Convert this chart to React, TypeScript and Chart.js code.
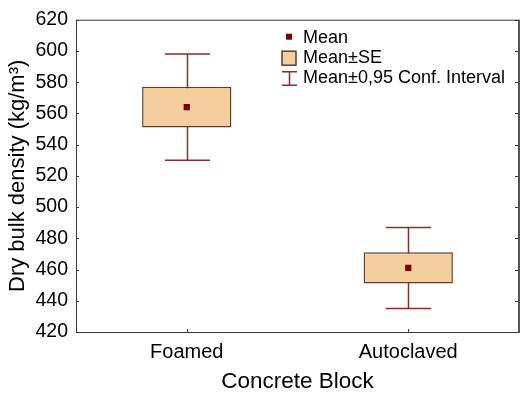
import React, { useEffect, useRef } from 'react';
import { Chart, registerables } from 'chart.js';

Chart.register(...registerables);

const categories = ['Foamed', 'Autoclaved'];
const means = [564, 461];
const seLow = [551, 451];
const seHigh = [577, 471];
const ciLow = [530, 435];
const ciHigh = [598, 487];
const yMin = 420;
const yMax = 620;
const yStep = 20;

const legendLabels = ['Mean', 'Mean±SE', 'Mean±0,95 Conf. Interval'];
const xTitle = 'Concrete Block';
const yTitle = 'Dry bulk density (kg/m³)';

const FONT = '"Liberation Sans", Arial, Helvetica, sans-serif';
const BOX_FILL = '#F4CE9C';
const BOX_BORDER = '#5e3c33';
const WHISKER = '#862e2e';
const MEAN_COLOR = '#7a0000';
const FRAME = '#3a3a3a';

const decor = {
  id: 'decor',
  beforeDatasetsDraw(chart: any) {
    const { ctx, scales } = chart;
    const x = scales.x;
    const y = scales.y;
    const catW = x.getPixelForValue(1) - x.getPixelForValue(0);
    const cap = catW * 0.102;
    ctx.save();
    ctx.strokeStyle = WHISKER;
    ctx.lineWidth = 1.5;
    categories.forEach((_c, i) => {
      const px = Math.round(x.getPixelForValue(i)) + 0.5;
      const yl = y.getPixelForValue(ciLow[i]);
      const yh = y.getPixelForValue(ciHigh[i]);
      ctx.beginPath();
      ctx.moveTo(px, yl);
      ctx.lineTo(px, yh);
      ctx.moveTo(px - cap, yl);
      ctx.lineTo(px + cap, yl);
      ctx.moveTo(px - cap, yh);
      ctx.lineTo(px + cap, yh);
      ctx.stroke();
    });
    ctx.restore();
  },
  afterDraw(chart: any) {
    const { ctx, chartArea, scales } = chart;
    const x = scales.x;
    const y = scales.y;
    const { left, right, top, bottom } = chartArea;
    ctx.save();
    // frame
    ctx.strokeStyle = FRAME;
    ctx.lineWidth = 1;
    ctx.beginPath();
    ctx.moveTo(left + 0.5, top + 0.5);
    ctx.lineTo(left + 0.5, bottom + 0.5);
    ctx.lineTo(right, bottom + 0.5);
    ctx.moveTo(left + 0.5, top + 0.5);
    ctx.lineTo(right, top + 0.5);
    ctx.stroke();
    ctx.strokeStyle = '#555';
    ctx.lineWidth = 2;
    ctx.beginPath();
    ctx.moveTo(right, top);
    ctx.lineTo(right, bottom + 1);
    ctx.stroke();
    // inward ticks
    ctx.strokeStyle = FRAME;
    ctx.lineWidth = 1;
    ctx.beginPath();
    for (let v = yMin; v <= yMax; v += yStep) {
      const py = Math.round(y.getPixelForValue(v)) + 0.5;
      ctx.moveTo(left, py);
      ctx.lineTo(left + 3, py);
      ctx.moveTo(right - 1, py);
      ctx.lineTo(right - 4, py);
    }
    categories.forEach((_c, i) => {
      const px = Math.round(x.getPixelForValue(i)) + 0.5;
      ctx.moveTo(px, bottom);
      ctx.lineTo(px, bottom - 3);
    });
    ctx.stroke();

    // legend
    const lx = left + 213;
    const tx = left + 227;
    ctx.font = '18px ' + FONT;
    ctx.fillStyle = '#000';
    ctx.textBaseline = 'middle';
    ctx.textAlign = 'left';
    // mean marker
    ctx.fillStyle = MEAN_COLOR;
    ctx.fillRect(lx - 3, top + 14, 6, 6);
    ctx.fillStyle = '#000';
    ctx.fillText(legendLabels[0], tx, top + 18);
    // box
    ctx.fillStyle = BOX_FILL;
    ctx.fillRect(lx - 7, top + 31.5, 14, 14);
    ctx.strokeStyle = BOX_BORDER;
    ctx.lineWidth = 1.5;
    ctx.strokeRect(lx - 7, top + 31.5, 14, 14);
    ctx.fillStyle = '#000';
    ctx.fillText(legendLabels[1], tx, top + 38.5);
    // CI icon
    ctx.strokeStyle = WHISKER;
    ctx.lineWidth = 1.5;
    ctx.beginPath();
    ctx.moveTo(lx + 0.5, top + 52);
    ctx.lineTo(lx + 0.5, top + 65.5);
    ctx.moveTo(lx - 7, top + 52);
    ctx.lineTo(lx + 8, top + 52);
    ctx.moveTo(lx - 7, top + 65.5);
    ctx.lineTo(lx + 8, top + 65.5);
    ctx.stroke();
    ctx.fillStyle = '#000';
    ctx.fillText(legendLabels[2], tx, top + 58.5);
    ctx.restore();
  },
};

export default function App() {
  const ref = useRef<HTMLCanvasElement | null>(null);
  useEffect(() => {
    if (!ref.current) return;
    Chart.defaults.font.family = FONT;
    const chart = new Chart(ref.current, {
      type: 'bar',
      data: {
        labels: categories,
        datasets: [
          {
            type: 'line',
            label: 'Mean',
            data: means,
            showLine: false,
            pointStyle: 'rect',
            pointRadius: 4.4,
            pointBackgroundColor: MEAN_COLOR,
            pointBorderColor: MEAN_COLOR,
            pointBorderWidth: 0,
            order: 0,
          } as any,
          {
            type: 'bar',
            label: 'Mean±SE',
            data: categories.map((_c, i) => [seLow[i], seHigh[i]]),
            backgroundColor: BOX_FILL,
            borderColor: BOX_BORDER,
            borderWidth: 1.5,
            borderSkipped: false,
            barPercentage: 1,
            categoryPercentage: 0.403,
            order: 1,
          } as any,
        ],
      },
      options: {
        responsive: false,
        animation: false,
        layout: { padding: { top: 18, right: 13, left: 0, bottom: 0 } },
        plugins: {
          legend: { display: false },
          tooltip: { enabled: false },
        },
        scales: {
          x: {
            type: 'category',
            offset: true,
            grid: { display: false, drawTicks: false },
            border: { display: false },
            ticks: { color: '#000', font: { size: 20, family: FONT }, padding: 8 },
            title: {
              display: true,
              text: xTitle,
              color: '#000',
              font: { size: 22.5, family: FONT },
              padding: { top: 0, bottom: 2 },
            },
            afterFit: (s: any) => {
              s.height = 65;
            },
          },
          y: {
            type: 'linear',
            min: yMin,
            max: yMax,
            grid: { display: false, drawTicks: false },
            border: { display: false },
            ticks: {
              stepSize: yStep,
              color: '#000',
              font: { size: 19.5, family: FONT },
              padding: 8,
            },
            title: {
              display: true,
              text: yTitle,
              color: '#000',
              font: { size: 22, family: FONT },
              padding: { top: 5, bottom: 0 },
            },
            afterFit: (s: any) => {
              s.width = 76;
            },
          },
        },
      } as any,
      plugins: [decor],
    });
    return () => chart.destroy();
  }, []);
  return (
    <div style={{ position: 'absolute', left: 0, top: 0, width: 532, height: 397 }}>
      <canvas ref={ref} width={532} height={397} style={{ display: 'block' }} />
    </div>
  );
}
